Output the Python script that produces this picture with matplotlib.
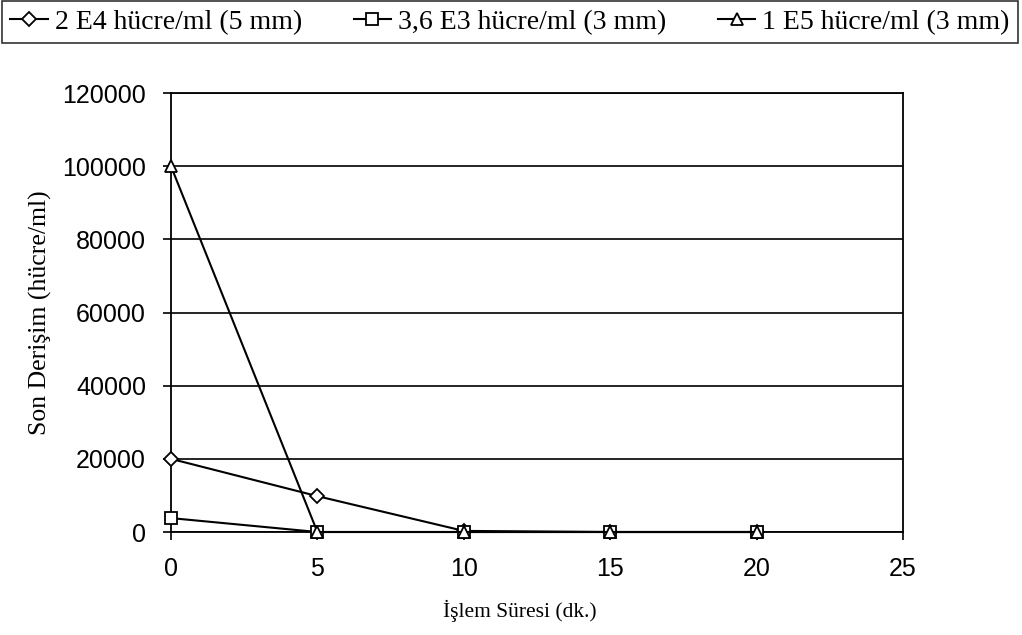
import matplotlib
matplotlib.use('Agg')
import matplotlib.pyplot as plt

# processing time (min)
sure = [0, 5, 10, 15, 20]

# final concentration (cells/ml)
seri_1 = [20000, 9800, 300, 0, 0]      # 2 E4 (5 mm)
seri_2 = [3800, 0, 0, 0, 0]            # 3,6 E3 (3 mm)
seri_3 = [100000, 0, 0, 0, 0]          # 1 E5 (3 mm)

etiketler = ['2 E4 hücre/ml (5 mm)', '3,6 E3 hücre/ml (3 mm)', '1 E5 hücre/ml (3 mm)']
y_ticks = [0, 20000, 40000, 60000, 80000, 100000, 120000]
x_ticks = [0, 5, 10, 15, 20, 25]

fig = plt.figure(figsize=(10.22, 6.35), dpi=100)
ax = fig.add_axes([0.1673, 0.1622, 0.7163, 0.6913])

for y, m, lab in zip([seri_1, seri_2, seri_3], ['D', 's', '^'], etiketler):
    ms = 7 if m == 'D' else 9
    ax.plot(sure, y, color='black', lw=1.5, marker=m, markersize=ms,
            markerfacecolor='white', markeredgecolor='black', markeredgewidth=1.3,
            label=lab, clip_on=False, zorder=3)

ax.set_xlim(0, 25)
ax.set_ylim(0, 120000)
ax.set_xticks(x_ticks)
ax.set_yticks(y_ticks)
ax.yaxis.grid(True, color='black', lw=1.2)
ax.set_axisbelow(True)
for s in ax.spines.values():
    s.set_linewidth(1.3)
ax.tick_params(axis='both', labelsize=18, width=1.2, length=6)
ax.tick_params(axis='x', direction='out', pad=12)
ax.tick_params(axis='y', pad=12)
for t in ax.get_xticklabels() + ax.get_yticklabels():
    t.set_family('Liberation Sans')

ax.set_xlabel('İşlem Süresi (dk.)', family='Liberation Serif', fontsize=15.5)
ax.xaxis.set_label_coords(0.477, -0.155)
ax.set_ylabel('Son Derişim (hücre/ml)', family='Liberation Serif', fontsize=18.5)
ax.yaxis.set_label_coords(-0.163, 0.5)

leg = fig.legend(loc='upper left', ncol=3, mode='expand',
                 bbox_to_anchor=(0.002, 0.927, 0.994, 0.071),
                 prop={'family': 'Liberation Serif', 'size': 20},
                 frameon=True, fancybox=False, handlelength=1.35,
                 handletextpad=0.25, borderaxespad=0, borderpad=0.3,
                 columnspacing=1.0)
leg.get_frame().set_edgecolor('black')
leg.get_frame().set_linewidth(1.2)

fig.savefig('out.png', dpi=100, facecolor='white')
